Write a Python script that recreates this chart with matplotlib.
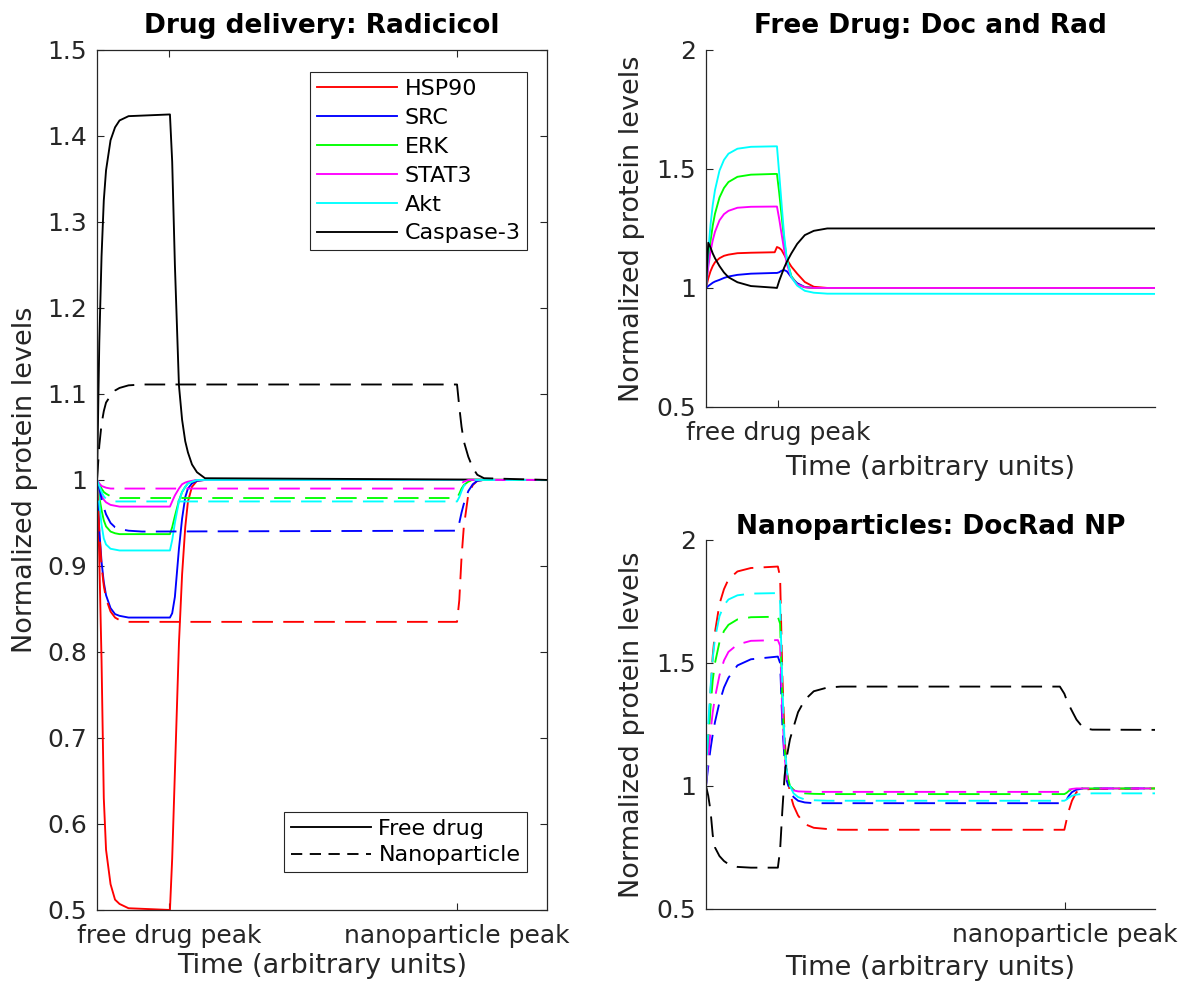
import matplotlib
matplotlib.use("Agg")
import matplotlib.pyplot as plt
from matplotlib.lines import Line2D
from matplotlib.ticker import FormatStrFormatter

# ---- data (time in arbitrary units 0..100) ----
proteins = ["HSP90", "SRC", "ERK", "STAT3", "Akt", "Caspase-3"]
colors = ["#ff0000", "#0000ff", "#00ff00", "#ff00ff", "#00ffff", "#000000"]

free_peak = 16
np_peak = 80

# left panel, free drug (solid)
t_free = [0, 0.5, 1, 1.5, 2, 3, 4, 5, 7, 16.2, 16.7, 17.3, 18.2, 18.9, 19.6, 20.2, 21.1, 22.2, 24, 100]
rad_free = {
    "HSP90": [1.0, 0.91, 0.79, 0.63, 0.57, 0.53, 0.512, 0.507, 0.502, 0.5, 0.56, 0.66, 0.81, 0.89, 0.945, 0.975, 0.992, 0.999, 1.0, 1.0],
    "SRC": [1.0, 0.942, 0.905, 0.881, 0.866, 0.851, 0.844, 0.842, 0.84, 0.84, 0.845, 0.864, 0.92, 0.955, 0.98, 0.99, 0.996, 0.999, 1.0, 1.0],
    "ERK": [1.0, 0.98, 0.965, 0.953, 0.946, 0.94, 0.938, 0.937, 0.937, 0.937, 0.945, 0.958, 0.976, 0.986, 0.992, 0.996, 0.998, 1.0, 1.0, 1.0],
    "STAT3": [1.0, 0.99, 0.982, 0.977, 0.974, 0.971, 0.97, 0.969, 0.969, 0.969, 0.975, 0.982, 0.99, 0.995, 0.997, 0.998, 0.999, 1.0, 1.0, 1.0],
    "Akt": [1.0, 0.972, 0.948, 0.932, 0.925, 0.92, 0.919, 0.918, 0.918, 0.918, 0.93, 0.95, 0.975, 0.986, 0.992, 0.996, 0.998, 1.0, 1.0, 1.0],
    "Caspase-3": [1.0, 1.16, 1.26, 1.325, 1.36, 1.395, 1.41, 1.418, 1.423, 1.425, 1.37, 1.25, 1.11, 1.07, 1.045, 1.032, 1.018, 1.009, 1.002, 1.0],
}

# left panel, nanoparticle (dashed)
t_nano = [0, 0.5, 1, 1.5, 2, 3, 4, 5, 7, 10, 80, 80.5, 81, 81.5, 82.5, 83.5, 84.5, 86, 100]
rad_nano = {
    "HSP90": [1.0, 0.94, 0.90, 0.877, 0.862, 0.847, 0.84, 0.837, 0.835, 0.835, 0.835, 0.86, 0.91, 0.945, 0.983, 0.994, 0.999, 1.0, 1.0],
    "SRC": [1.0, 0.99, 0.978, 0.968, 0.96, 0.95, 0.945, 0.943, 0.941, 0.94, 0.941, 0.95, 0.962, 0.972, 0.987, 0.995, 0.999, 1.0, 1.0],
    "ERK": [1.0, 0.995, 0.99, 0.986, 0.984, 0.981, 0.98, 0.979, 0.979, 0.979, 0.979, 0.984, 0.99, 0.994, 0.998, 1.0, 1.0, 1.0, 1.0],
    "STAT3": [1.0, 0.996, 0.993, 0.992, 0.991, 0.99, 0.99, 0.99, 0.99, 0.99, 0.99, 0.993, 0.996, 0.998, 1.0, 1.0, 1.0, 1.0, 1.0],
    "Akt": [1.0, 0.993, 0.986, 0.981, 0.978, 0.976, 0.975, 0.975, 0.975, 0.975, 0.975, 0.98, 0.987, 0.993, 0.998, 1.0, 1.0, 1.0, 1.0],
    "Caspase-3": [1.0, 1.04, 1.065, 1.08, 1.09, 1.098, 1.104, 1.107, 1.11, 1.111, 1.111, 1.085, 1.062, 1.045, 1.027, 1.014, 1.006, 1.002, 1.0],
}

# top right, free Doc + Rad (solid)
t_doc = [0, 0.5, 1, 1.5, 2, 3, 4, 5, 7, 10, 15.3, 15.8, 16.3, 16.8, 17.4, 18, 19, 20.3, 22, 24, 27, 100]
docrad_free = {
    "HSP90": [1.0, 1.04, 1.07, 1.092, 1.108, 1.125, 1.135, 1.14, 1.146, 1.148, 1.15, 1.172, 1.168, 1.16, 1.14, 1.12, 1.09, 1.06, 1.025, 1.005, 1.0, 1.0],
    "SRC": [1.0, 1.008, 1.015, 1.022, 1.027, 1.034, 1.042, 1.048, 1.055, 1.06, 1.063, 1.063, 1.066, 1.072, 1.075, 1.07, 1.045, 1.02, 1.004, 1.0, 1.0, 1.0],
    "ERK": [1.0, 1.11, 1.196, 1.262, 1.312, 1.38, 1.42, 1.445, 1.467, 1.476, 1.479, 1.479, 1.40, 1.31, 1.2, 1.12, 1.05, 1.015, 1.003, 1.0, 1.0, 1.0],
    "STAT3": [1.0, 1.087, 1.152, 1.2, 1.236, 1.284, 1.31, 1.324, 1.337, 1.341, 1.342, 1.342, 1.29, 1.23, 1.16, 1.1, 1.045, 1.015, 1.003, 1.0, 1.0, 1.0],
    "Akt": [1.0, 1.152, 1.265, 1.349, 1.411, 1.493, 1.538, 1.564, 1.585, 1.593, 1.595, 1.595, 1.48, 1.36, 1.22, 1.12, 1.045, 1.01, 0.988, 0.98, 0.976, 0.975],
    "Caspase-3": [1.0, 1.19, 1.17, 1.145, 1.125, 1.092, 1.065, 1.045, 1.024, 1.008, 1.001, 1.0, 1.03, 1.055, 1.085, 1.11, 1.145, 1.185, 1.222, 1.24, 1.25, 1.25],
}

# bottom right, DocRad nanoparticles (dashed)
t_np = [0, 0.5, 1, 1.5, 2, 3, 4, 5, 7, 10, 16, 16.5, 17, 17.5, 18, 18.7, 19.5, 20.5, 22, 24, 27, 30, 78.8, 79.8, 80.3, 80.8, 81.5, 82.5, 84, 86, 100]
docrad_np = {
    "HSP90": [1.0, 1.2, 1.38, 1.53, 1.625, 1.74, 1.8, 1.84, 1.872, 1.886, 1.892, 1.85, 1.45, 1.2, 1.06, 0.97, 0.92, 0.88, 0.845, 0.83, 0.825, 0.822, 0.822, 0.822, 0.862, 0.9, 0.94, 0.975, 0.985, 0.988, 0.99],
    "SRC": [1.0, 1.08, 1.15, 1.21, 1.26, 1.34, 1.4, 1.44, 1.49, 1.515, 1.526, 1.5, 1.25, 1.1, 1.02, 0.98, 0.955, 0.94, 0.933, 0.93, 0.93, 0.93, 0.93, 0.93, 0.945, 0.96, 0.975, 0.985, 0.99, 0.99, 0.99],
    "ERK": [1.0, 1.17, 1.32, 1.43, 1.5, 1.585, 1.63, 1.655, 1.677, 1.686, 1.688, 1.66, 1.35, 1.15, 1.05, 1.0, 0.985, 0.975, 0.97, 0.968, 0.967, 0.967, 0.967, 0.967, 0.972, 0.98, 0.985, 0.988, 0.99, 0.99, 0.99],
    "STAT3": [1.0, 1.12, 1.22, 1.3, 1.36, 1.45, 1.51, 1.545, 1.575, 1.59, 1.593, 1.57, 1.3, 1.12, 1.03, 0.99, 0.982, 0.978, 0.977, 0.976, 0.976, 0.976, 0.976, 0.976, 0.98, 0.985, 0.988, 0.99, 0.99, 0.99, 0.99],
    "Akt": [1.0, 1.25, 1.4, 1.52, 1.6, 1.69, 1.735, 1.758, 1.775, 1.782, 1.784, 1.75, 1.4, 1.18, 1.06, 1.0, 0.97, 0.955, 0.945, 0.942, 0.94, 0.94, 0.94, 0.94, 0.945, 0.952, 0.96, 0.965, 0.968, 0.97, 0.97],
    "Caspase-3": [1.0, 0.96, 0.9, 0.8, 0.75, 0.715, 0.695, 0.682, 0.671, 0.668, 0.668, 0.74, 0.9, 1.04, 1.12, 1.19, 1.24, 1.3, 1.35, 1.385, 1.4, 1.404, 1.404, 1.375, 1.35, 1.33, 1.305, 1.27, 1.236, 1.229, 1.228],
}

left_yticks = [0.5, 0.6, 0.7, 0.8, 0.9, 1.0, 1.1, 1.2, 1.3, 1.4, 1.5]
right_yticks = [0.5, 1.0, 1.5, 2.0]

# ---- style ----
plt.rcParams["font.family"] = "DejaVu Sans"
txt = "#262626"
DASH = (0, (11, 5.5))
LW = 1.35

fig = plt.figure(figsize=(11.82, 9.83), dpi=100)
axL = fig.add_axes([0.0821, 0.0743, 0.3807, 0.8749])
axT = fig.add_axes([0.5973, 0.586, 0.3799, 0.3632])
axB = fig.add_axes([0.5973, 0.0753, 0.3799, 0.3754])


def style_axes(ax, box):
    ax.tick_params(direction="in", length=5, width=0.8, colors=txt, labelsize=18,
                   top=box, right=box)
    ax.tick_params(axis="x", pad=10)
    ax.tick_params(axis="y", pad=7)
    for s in ax.spines.values():
        s.set_color(txt)
        s.set_linewidth(0.9)
    if not box:
        ax.spines["top"].set_visible(False)
        ax.spines["right"].set_visible(False)
    ax.set_xlim(0, 100)
    ax.yaxis.set_major_formatter(FormatStrFormatter("%g"))


# left: radicicol
for p, c in zip(proteins, colors):
    axL.plot(t_free, rad_free[p], color=c, lw=LW)
for p, c in zip(proteins, colors):
    axL.plot(t_nano, rad_nano[p], color=c, lw=LW, linestyle=DASH)
style_axes(axL, True)
axL.set_ylim(0.5, 1.5)
axL.set_yticks(left_yticks)
axL.set_xticks([free_peak, np_peak])
axL.set_xticklabels(["free drug peak", "nanoparticle peak"])
axL.set_title("Drug delivery: Radicicol", fontsize=19, fontweight="bold", pad=12)
axL.set_xlabel("Time (arbitrary units)", fontsize=19.5, color=txt)
axL.set_ylabel("Normalized protein levels", fontsize=19.5, color=txt)
axL.xaxis.set_label_coords(0.5, -0.05)
axL.yaxis.set_label_coords(-0.131, 0.5)

h1 = [Line2D([], [], color=c, lw=LW) for c in colors]
leg1 = axL.legend(h1, proteins, loc="upper right", bbox_to_anchor=(0.9556, 0.974),
                  fontsize=16, frameon=True, fancybox=False, framealpha=1,
                  edgecolor=txt, handlelength=3.6, handletextpad=0.35,
                  labelspacing=0.4, borderpad=0.3, borderaxespad=0)
leg1.get_frame().set_linewidth(0.8)
axL.add_artist(leg1)
h2 = [Line2D([], [], color="k", lw=LW), Line2D([], [], color="k", lw=LW, linestyle=(0, (6, 4)))]
leg2 = axL.legend(h2, ["Free drug", "Nanoparticle"], loc="lower right",
                  bbox_to_anchor=(0.9556, 0.044), fontsize=16, frameon=True,
                  fancybox=False, framealpha=1, edgecolor=txt, handlelength=3.6,
                  handletextpad=0.35, labelspacing=0.3, borderpad=0.3, borderaxespad=0)
leg2.get_frame().set_linewidth(0.8)

# top right: free doc + rad
for p, c in zip(proteins, colors):
    axT.plot(t_doc, docrad_free[p], color=c, lw=LW)
style_axes(axT, False)
axT.set_ylim(0.5, 2)
axT.set_yticks(right_yticks)
axT.set_xticks([free_peak])
axT.set_xticklabels(["free drug peak"])
axT.set_title("Free Drug: Doc and Rad", fontsize=19, fontweight="bold", pad=12)
axT.set_xlabel("Time (arbitrary units)", fontsize=19.5, color=txt)
axT.set_ylabel("Normalized protein levels", fontsize=19.5, color=txt)
axT.xaxis.set_label_coords(0.5, -0.134)
axT.yaxis.set_label_coords(-0.136, 0.5)

# bottom right: docrad nanoparticles
for p, c in zip(proteins, colors):
    axB.plot(t_np, docrad_np[p], color=c, lw=LW, linestyle=DASH)
style_axes(axB, False)
axB.set_ylim(0.5, 2)
axB.set_yticks(right_yticks)
axB.set_xticks([np_peak])
axB.set_xticklabels(["nanoparticle peak"])
axB.set_title("Nanoparticles: DocRad NP", fontsize=19, fontweight="bold", pad=4)
axB.set_xlabel("Time (arbitrary units)", fontsize=19.5, color=txt)
axB.set_ylabel("Normalized protein levels", fontsize=19.5, color=txt)
axB.xaxis.set_label_coords(0.5, -0.125)
axB.yaxis.set_label_coords(-0.136, 0.5)

fig.savefig("out.png", dpi=100)
